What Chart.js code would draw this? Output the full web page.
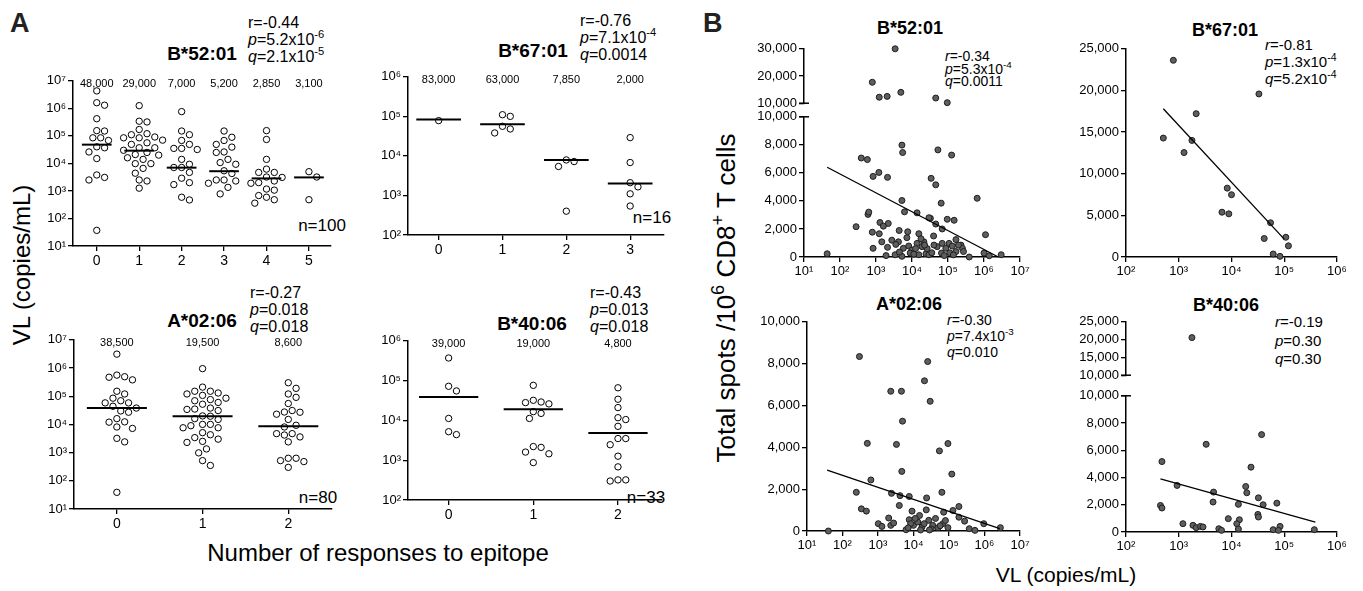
<!DOCTYPE html>
<html>
<head>
<meta charset="utf-8">
<script src="https://cdn.jsdelivr.net/npm/chart.js@4.4.0/dist/chart.umd.min.js"></script>
<style>
body{margin:0;background:#fff;width:1363px;height:591px;overflow:hidden;position:relative;font-family:"Liberation Sans",Arial,sans-serif;}
canvas{position:absolute;}
.t{position:absolute;white-space:nowrap;line-height:1;color:#000;}
.c{transform:translate(-50%,-50%);}
.ttl{font-weight:bold;font-size:19px;}
.bt{font-weight:bold;font-size:18px;}
.st{font-size:16px;}
.bs{font-size:14px;}
sup{font-size:0.7em;vertical-align:0;position:relative;top:-0.6em;line-height:0;}
.rot{transform:translate(-50%,-50%) rotate(-90deg);}
.big{font-weight:bold;font-size:27px;color:#222;}
</style>
</head>
<body>

<div class="t big" style="left:10px;top:10px">A</div>
<div class="t big" style="left:703px;top:10px">B</div>

<!-- panel A titles and stats -->
<div class="t ttl c" style="left:202px;top:53px">B*52:01</div>
<div class="t st" style="left:248px;top:14px;line-height:17px">r=-0.44<br><i>p</i>=5.2x10<sup>-6</sup><br><i>q</i>=2.1x10<sup>-5</sup></div>
<div class="t c" style="left:322px;top:225px;font-size:17px">n=100</div>

<div class="t ttl c" style="left:533px;top:50px">B*67:01</div>
<div class="t st" style="left:580px;top:12px;line-height:17px">r=-0.76<br><i>p</i>=7.1x10<sup>-4</sup><br><i>q</i>=0.0014</div>
<div class="t c" style="left:652px;top:217px;font-size:17px">n=16</div>

<div class="t ttl c" style="left:202px;top:320px">A*02:06</div>
<div class="t st" style="left:250px;top:284px;line-height:17px">r=-0.27<br><i>p</i>=0.018<br><i>q</i>=0.018</div>
<div class="t c" style="left:318px;top:497px;font-size:17px">n=80</div>

<div class="t ttl c" style="left:532px;top:323px">B*40:06</div>
<div class="t st" style="left:590px;top:284px;line-height:17px">r=-0.43<br><i>p</i>=0.013<br><i>q</i>=0.018</div>
<div class="t c" style="left:646px;top:497px;font-size:17px">n=33</div>

<div class="t rot" style="left:22px;top:265px;font-size:24px">VL (copies/mL)</div>
<div class="t c" style="left:378px;top:553px;font-size:24px">Number of responses to epitope</div>

<!-- panel B titles and stats -->
<div class="t bt c" style="left:910px;top:28px">B*52:01</div>
<div class="t bs" style="left:945px;top:50px;line-height:12.7px"><i>r</i>=-0.34<br><i>p</i>=5.3x10<sup>-4</sup><br><i>q</i>=0.0011</div>

<div class="t bt c" style="left:1225px;top:30px">B*67:01</div>
<div class="t bs" style="left:1265px;top:36px;line-height:17px;font-size:15px"><i>r</i>=-0.81<br><i>p</i>=1.3x10<sup>-4</sup><br><i>q</i>=5.2x10<sup>-4</sup></div>

<div class="t bt c" style="left:909px;top:304px">A*02:06</div>
<div class="t bs" style="left:947px;top:312px;line-height:16px"><i>r</i>=-0.30<br><i>p</i>=7.4x10<sup>-3</sup><br><i>q</i>=0.010</div>

<div class="t bt c" style="left:1226px;top:305px">B*40:06</div>
<div class="t bs" style="left:1275px;top:313px;line-height:18.5px;font-size:15px"><i>r</i>=-0.19<br><i>p</i>=0.30<br><i>q</i>=0.30</div>

<div class="t rot" style="left:726px;top:298px;font-size:26px">Total spots /10<sup>6</sup> CD8<sup>+</sup> T cells</div>
<div class="t c" style="left:1066px;top:574px;font-size:21px">VL (copies/mL)</div>

<script>
// ---- panel A: VL per number of responses (one array per category) ----
const a5201Vl = [
  [4300000, 1600000, 1300000, 420000, 155000, 150000, 85000, 85000, 68000, 37000, 40000, 26000, 15000, 3100, 3800, 2500, 37],
  [1250000, 320000, 340000, 170000, 120000, 110000, 85000, 85000, 91000, 70000, 56000, 49000, 37000, 37000, 25000, 21000, 20000, 14000, 9800, 9800, 6600, 4400, 2300, 2500, 1260, 30000, 16000],
  [760000, 150000, 110000, 68000, 49000, 32000, 35000, 35000, 14000, 9300, 7100, 7100, 4700, 2000, 2900, 1700, 470, 590],
  [150000, 89000, 68000, 49000, 39000, 26000, 25000, 14000, 10700, 9300, 4300, 5400, 2500, 2300, 2500, 1350, 780, 1900],
  [155000, 74000, 14000, 6200, 4700, 4700, 2300, 1900, 2000, 1170, 1070, 680, 590, 480, 360, 3100, 3200],
  [5000, 3200, 480]
];
const a5201Med = [48000, 29000, 7000, 5200, 2850, 3100];

const a6701Vl = [
  [78000],
  [110000, 100000, 56000, 38000, 48000],
  [7200, 7900, 5400, 400],
  [29000, 6800, 2100, 1650, 1100, 540]
];
const a6701Med = [83000, 63000, 7850, 2000];

const a0206Vl = [
  [3100000, 490000, 380000, 470000, 560000, 150000, 120000, 85000, 58000, 44000, 58000, 69000, 30000, 38000, 27000, 16000, 12000, 12300, 7200, 8100, 3200, 2400, 39],
  [950000, 210000, 150000, 120000, 130000, 150000, 85000, 69000, 52000, 76000, 107000, 35000, 34000, 38000, 19500, 31000, 16000, 15000, 10000, 7600, 7600, 10000, 5100, 3400, 2500, 2300, 4300, 3000, 1350, 980, 350, 520, 20000, 60000, 9000],
  [300000, 190000, 120000, 91000, 55000, 31000, 27500, 23000, 27000, 15000, 8100, 9300, 4700, 3600, 2400, 4200, 4700, 630, 520, 300, 480, 630]
];
const a0206Med = [38500, 19500, 8600];

const a4006Vl = [
  [370000, 72000, 55000, 11200, 4400, 5200],
  [76000, 32000, 28000, 26000, 29000, 16600, 11200, 15000, 2100, 1600, 2200, 1450, 870],
  [66000, 34000, 21000, 11700, 10500, 7100, 3500, 3500, 2450, 1260, 680, 320, 300, 320]
];
const a4006Med = [39000, 19000, 4800];

// ---- panel B: [VL, total spots] ----
const b5201Pts = [
  [3400, 30000], [790, 17700], [1230, 12200], [2040, 12500], [4900, 14000], [45700, 11900], [95500, 10200],
  [5250, 7980], [5500, 7450], [52500, 7640], [126000, 7270], [390, 7060], [575, 6950], [830, 5750], [1200, 6030],
  [2090, 5680], [34000, 5610], [45700, 5150], [5250, 4030], [64600, 3840], [646000, 4190], [600, 3040], [630, 3200],
  [6200, 3220], [13800, 3150], [280, 2160], [1290, 2460], [2190, 2390], [4400, 1890], [32400, 2760], [29500, 2800],
  [45700, 2350], [69000, 2000], [95500, 2690], [148000, 2620], [1100000, 1590], [790, 1770], [1230, 1660], [1450, 1080],
  [830, 620], [2090, 690], [2750, 1200], [3400, 160], [5250, 50], [7200, 1380], [8100, 780], [10000, 500], [13800, 970],
  [19000, 740], [24500, 230], [29500, 160], [50000, 740], [66000, 280], [87000, 620], [107000, 970], [132000, 780],
  [166000, 390], [229000, 850], [251000, 620], [269000, 390], [389000, 0], [44, 230], [1000000, 280], [3000000, 160],
  [1400000, 90], [15500, 1660], [4200, 1080], [5750, 620], [8900, 280], [15500, 160], [21400, 1080], [40700, 850],
  [69000, 970], [166000, 1240], [195000, 850], [1600, 2200], [3550, 900], [7600, 1800], [11200, 200], [17800, 1300],
  [26300, 600], [35500, 300], [79000, 100], [112000, 300], [141000, 150], [1900, 100], [4470, 350], [12600, 600],
  [22400, 850], [39800, 1500]
];
const b5201Fit = [[44, 6400], [2500000, 0]];

const b6701Pts = [
  [790, 23620], [33100, 19580], [2140, 17210], [510, 14280], [1780, 14000], [1260, 12540], [8300, 8270], [10000, 7480],
  [6600, 5380], [8900, 5180], [55000, 4110], [41700, 2220], [107000, 2370], [120000, 1340], [61700, 360], [83000, 80]
];
const b6701Fit = [[510, 17800], [100000, 2140]];

const b0206Pts = [
  [300, 8340], [25100, 8100], [20400, 7180], [2290, 6680], [4570, 6680], [29500, 6200], [4900, 5250], [500, 4190],
  [3310, 4140], [53700, 3830], [93300, 4180], [4680, 2850], [120000, 2720], [630, 2440], [245, 1850], [2400, 1800],
  [4170, 1690], [7590, 1650], [23400, 1580], [63100, 1850], [3980, 1220], [340, 1060], [470, 950], [2000, 620],
  [1020, 350], [1290, 220], [2290, 270], [2750, 380], [9100, 950], [14800, 740], [22900, 1010], [70800, 900],
  [129000, 980], [190000, 1170], [190000, 660], [275000, 470], [372000, 110], [537000, 30], [955000, 350], [2800000, 160],
  [40, 0], [7590, 540], [10000, 270], [13200, 430], [17400, 190], [26900, 510], [34700, 270], [49000, 160], [67600, 350],
  [93300, 160], [6170, 60], [8300, 350], [11200, 600], [20000, 350], [31600, 100], [41700, 600], [56200, 250],
  [79400, 500], [15800, 50], [28200, 50], [7080, 150]
];
const b0206Fit = [[37, 2910], [2700000, 110]];

const b4006Pts = [
  [1780, 20560], [480, 5170], [930, 3420], [3310, 6440], [37200, 7150], [23400, 4760], [450, 1950], [480, 1760],
  [4570, 2930], [4470, 2200], [1200, 610], [1860, 490], [2140, 320], [2570, 410], [2880, 370], [5750, 240], [6460, 120],
  [8700, 980], [13500, 2030], [14100, 900], [12600, 610], [13500, 220], [18600, 3340], [19500, 2880], [32400, 2510],
  [39800, 2000], [31600, 1290], [32400, 1100], [72400, 2120], [61700, 170], [83200, 410], [77600, 120], [372000, 170]
];
const b4006Fit = [[450, 3900], [389000, 730]];

Chart.defaults.font.family = '"Liberation Sans", Arial, sans-serif';
Chart.defaults.color = '#000';

const supDigits = { '0': '⁰', '1': '¹', '2': '²', '3': '³', '4': '⁴', '5': '⁵', '6': '⁶', '7': '⁷', '8': '⁸', '9': '⁹', '-': '⁻' };
const pow10 = v => '10' + String(Math.round(Math.log10(v))).split('').map(c => supDigits[c]).join('');
const decades = (a, b) => {
  const out = [];
  for (let e = Math.round(Math.log10(a)); e <= Math.round(Math.log10(b)); e++) out.push(Math.pow(10, e));
  return out;
};
const fmt = v => v.toLocaleString('en-US');

const axisLook = () => ({
  grid: { drawOnChartArea: false, tickLength: 5, color: '#000', lineWidth: 1.3 },
  border: { color: '#000', width: 1.5 }
});

const medLabels = {
  id: 'medLabels',
  afterDraw(chart, args, opts) {
    if (!opts.labels) return;
    const ctx = chart.ctx;
    ctx.save();
    ctx.font = '11px "Liberation Sans", Arial, sans-serif';
    ctx.fillStyle = '#000';
    ctx.textAlign = 'center';
    ctx.textBaseline = 'middle';
    opts.labels.forEach((t, i) => ctx.fillText(t, chart.scales.x.getPixelForValue(i), chart.chartArea.top + 3));
    ctx.restore();
  }
};

// little cross bar where the y axis is broken
const breakCap = {
  id: 'breakCap',
  afterDraw(chart, args, opts) {
    if (!opts.at) return;
    const ctx = chart.ctx, a = chart.chartArea;
    const y = opts.at === 'top' ? a.top : a.bottom;
    ctx.save();
    ctx.strokeStyle = '#000';
    ctx.lineWidth = 1.5;
    ctx.beginPath();
    ctx.moveTo(a.left - 5, y);
    ctx.lineTo(a.left + 5, y);
    ctx.stroke();
    ctx.restore();
  }
};

// area = [left, top, right, bottom] of the plot area on the page
function mkCanvas(area, yW, xH, padT, padR) {
  const c = document.createElement('canvas');
  c.width = area[2] - area[0] + yW + padR;
  c.height = area[3] - area[1] + padT + xH;
  c.style.left = (area[0] - yW) + 'px';
  c.style.top = (area[1] - padT) + 'px';
  document.body.appendChild(c);
  return c;
}

const common = {
  responsive: false, animation: false, events: []
};

// spread the points of each category sideways so they do not overlap
function swarm(chart, groups, dist) {
  const xs = chart.scales.x, ys = chart.scales.y;
  const unit = xs.getPixelForValue(1) - xs.getPixelForValue(0);
  groups.forEach((vals, i) => {
    const order = vals.map((v, k) => k).sort((a, b) => vals[b] - vals[a]);
    const placed = [];
    order.forEach(k => {
      const py = ys.getPixelForValue(vals[k]);
      let off = 0;
      for (let s = 0; s < 60; s++) {
        const cand = (s % 2 ? 1 : -1) * Math.ceil(s / 2) * dist / 2;
        if (placed.every(p => Math.hypot(p[0] - cand, p[1] - py) >= dist)) { off = cand; break; }
      }
      placed.push([off, py]);
      chart.data.datasets[i].data[k].x = i + off / unit;
    });
  });
  chart.update('none');
}

function dotPlot(area, groups, medians, yMin, yMax, xMin, xMax) {
  const cv = mkCanvas(area, 45, 25, 8, 4);
  const ds = groups.map((vals, i) => ({
    data: vals.map(v => ({ x: i, y: v })),
    pointRadius: 3.2, pointBorderWidth: 1, pointBorderColor: '#000', pointBackgroundColor: '#fff',
    clip: false, order: 1
  }));
  medians.forEach((m, i) => ds.push({
    data: [{ x: i - 0.35, y: m }, { x: i + 0.35, y: m }],
    showLine: true, pointRadius: 0, borderColor: '#000', borderWidth: 2, clip: false, order: 0
  }));
  const chart = new Chart(cv, {
    type: 'scatter',
    data: { datasets: ds },
    options: {
      ...common,
      layout: { padding: { top: 8, right: 4, left: 0, bottom: 0 } },
      scales: {
        x: {
          type: 'linear', min: xMin, max: xMax, ...axisLook(),
          afterBuildTicks: s => { s.ticks = groups.map((g, i) => ({ value: i })); },
          ticks: { font: { size: 14 }, padding: 2, callback: v => String(v) },
          afterFit: s => { s.height = 25; }
        },
        y: {
          type: 'logarithmic', min: yMin, max: yMax, ...axisLook(),
          afterBuildTicks: s => { s.ticks = decades(yMin, yMax).map(v => ({ value: v })); },
          ticks: { font: { size: 13 }, padding: 2, autoSkip: false, callback: v => pow10(v) },
          afterFit: s => { s.width = 45; }
        }
      },
      plugins: { legend: { display: false }, tooltip: { enabled: false }, medLabels: { labels: medians.map(fmt) } }
    },
    plugins: [medLabels]
  });
  swarm(chart, groups, 7.8);
}

function corrPlot(area, pts, xMin, xMax, yMin, yMax, step, fit, showX, cap) {
  const xH = showX ? 25 : 8;
  const cv = mkCanvas(area, 55, xH, 8, 12);
  const ds = [{
    data: pts.map(p => ({ x: p[0], y: p[1] })),
    pointRadius: 3, pointBorderWidth: 1, pointBackgroundColor: '#5e5e5e', pointBorderColor: '#1e1e1e',
    clip: false, order: 1
  }];
  if (fit) ds.push({
    data: fit.map(p => ({ x: p[0], y: p[1] })),
    showLine: true, pointRadius: 0, borderColor: '#000', borderWidth: 1.3, clip: false, order: 0
  });
  new Chart(cv, {
    type: 'scatter',
    data: { datasets: ds },
    options: {
      ...common,
      layout: { padding: { top: 8, right: 12, left: 0, bottom: showX ? 0 : xH } },
      scales: {
        x: {
          type: 'logarithmic', min: xMin, max: xMax, display: showX, ...axisLook(),
          afterBuildTicks: s => { s.ticks = decades(xMin, xMax).map(v => ({ value: v })); },
          ticks: { font: { size: 13 }, padding: 2, autoSkip: false, maxRotation: 0, callback: v => pow10(v) },
          afterFit: s => { s.height = showX ? 25 : 0; }
        },
        y: {
          type: 'linear', min: yMin, max: yMax, ...axisLook(),
          ticks: { stepSize: step, font: { size: 13 }, padding: 2, autoSkip: false, callback: v => fmt(v) },
          afterFit: s => { s.width = 55; }
        }
      },
      plugins: { legend: { display: false }, tooltip: { enabled: false }, breakCap: { at: cap || null } }
    },
    plugins: [breakCap]
  });
}

dotPlot([73, 79, 332, 246], a5201Vl, a5201Med, 10, 1e7, -0.56, 5.52);
dotPlot([408, 75, 665, 235], a6701Vl, a6701Med, 100, 1e6, -0.48, 3.53);
dotPlot([74, 338, 333, 509], a0206Vl, a0206Med, 10, 1e7, -0.5, 2.51);
dotPlot([408, 339, 663, 500], a4006Vl, a4006Med, 100, 1e6, -0.48, 2.52);

const lower = pts => pts.filter(p => p[1] <= 10000);
const upper = pts => pts.filter(p => p[1] > 10000);

corrPlot([804, 47, 1020, 105], upper(b5201Pts), 10, 1e7, 10000, 30000, 10000, null, false, 'bottom');
corrPlot([804, 115, 1020, 257], lower(b5201Pts), 10, 1e7, 0, 10000, 2000, b5201Fit, true, 'top');
corrPlot([1126, 47, 1337, 257], b6701Pts, 100, 1e6, 0, 25000, 5000, b6701Fit, true);
corrPlot([807, 320, 1020, 531], b0206Pts, 10, 1e7, 0, 10000, 2000, b0206Fit, true);
corrPlot([1126, 320, 1337, 377], upper(b4006Pts), 100, 1e6, 10000, 25000, 5000, null, false, 'bottom');
corrPlot([1126, 394, 1337, 532], lower(b4006Pts), 100, 1e6, 0, 10000, 2000, b4006Fit, true, 'top');
</script>
</body>
</html>
